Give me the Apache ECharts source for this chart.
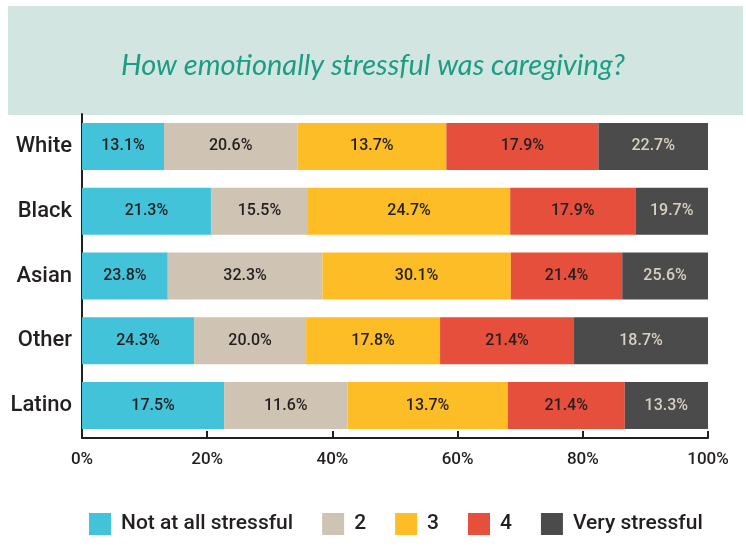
<!DOCTYPE html>
<html>
<head>
<meta charset="utf-8">
<script src="https://cdn.jsdelivr.net/npm/echarts@6/dist/echarts.min.js"></script>
<style>
  html, body { margin: 0; padding: 0; background: #fff; }
  #main { width: 746px; height: 546px; }
</style>
</head>
<body>
<div id="main"></div>
<script>
// categories, top to bottom
var groups = ['White', 'Black', 'Asian', 'Other', 'Latino'];
var levels = ['Not at all stressful', '2', '3', '4', 'Very stressful'];
var colors = ['#42c3d9', '#cfc4b3', '#fdbd26', '#e64f3b', '#4a4b4a'];

// segment widths as drawn in the picture (%)
var notAtAll = [13.1, 20.6, 13.7, 17.9, 22.7];
var level2   = [21.3, 15.5, 24.7, 17.9, 19.7];
var level3   = [23.8, 32.3, 30.1, 21.4, 25.6];
var level4   = [24.3, 20.0, 17.8, 21.4, 18.7];
var veryStr  = [17.5, 11.6, 13.7, 21.4, 13.3];

// printed labels inside the segments (%)
var notAtAllLbl = [13.1, 21.3, 23.8, 24.3, 17.5];
var level2Lbl   = [20.6, 15.5, 32.3, 20.0, 11.6];
var level3Lbl   = [13.7, 24.7, 30.1, 17.8, 13.7];
var level4Lbl   = [17.9, 17.9, 21.4, 21.4, 21.4];
var veryStrLbl  = [22.7, 19.7, 25.6, 18.7, 13.3];

var xTicks = [0, 20, 40, 60, 80, 100];

var values = [notAtAll, level2, level3, level4, veryStr];
var labels = [notAtAllLbl, level2Lbl, level3Lbl, level4Lbl, veryStrLbl];

var font = "Roboto, 'Liberation Sans', sans-serif";
var ink = '#231f20';

var myChart = echarts.init(document.getElementById('main'));

var series = levels.map(function (name, i) {
    return {
        name: name,
        type: 'bar',
        stack: 'total',
        barWidth: 47,
        itemStyle: { color: colors[i] },
        label: {
            show: true,
            position: 'inside',
            fontFamily: font,
            fontWeight: 500,
            fontSize: 16,
            color: i === 4 ? '#d9cfc0' : ink,
            formatter: function (p) {
                return labels[i][p.dataIndex].toFixed(1) + '%';
            }
        },
        data: values[i]
    };
});

var option = {
    animation: false,
    color: colors,
    graphic: [{
        type: 'rect',
        shape: { x: 8, y: 6, width: 735, height: 109 },
        style: { fill: '#d3e5e0' },
        z: -1
    }],
    title: {
        text: 'How emotionally stressful was caregiving?',
        left: 'center',
        top: 46,
        textStyle: {
            fontFamily: 'Lato',
            fontStyle: 'italic',
            fontWeight: 'normal',
            fontSize: 29,
            color: '#1a9d84'
        }
    },
    legend: {
        data: levels,
        left: 84,
        bottom: 6,
        icon: 'rect',
        itemWidth: 22,
        itemHeight: 22,
        itemGap: 29,
        textStyle: {
            fontFamily: font,
            fontWeight: 500,
            fontSize: 21,
            color: ink,
            padding: [0, 0, 0, 5]
        }
    },
    grid: {
        left: 82,
        right: 38,
        top: 114,
        bottom: 108
    },
    xAxis: {
        type: 'value',
        min: xTicks[0],
        max: xTicks[xTicks.length - 1],
        interval: 20,
        splitLine: { show: false },
        axisLine: { show: true, lineStyle: { color: ink, width: 2 } },
        axisTick: { show: true, inside: true, length: 7, lineStyle: { color: ink, width: 2 } },
        axisLabel: {
            formatter: '{value}%',
            fontFamily: font,
            fontWeight: 500,
            fontSize: 17,
            color: ink,
            margin: 13
        }
    },
    yAxis: {
        type: 'category',
        inverse: true,
        data: groups,
        axisLine: { show: true, lineStyle: { color: ink, width: 2 } },
        axisTick: { show: false },
        axisLabel: {
            fontFamily: font,
            fontWeight: 500,
            fontSize: 22,
            color: ink,
            margin: 10
        }
    },
    series: series
};

myChart.setOption(option);
</script>
</body>
</html>
